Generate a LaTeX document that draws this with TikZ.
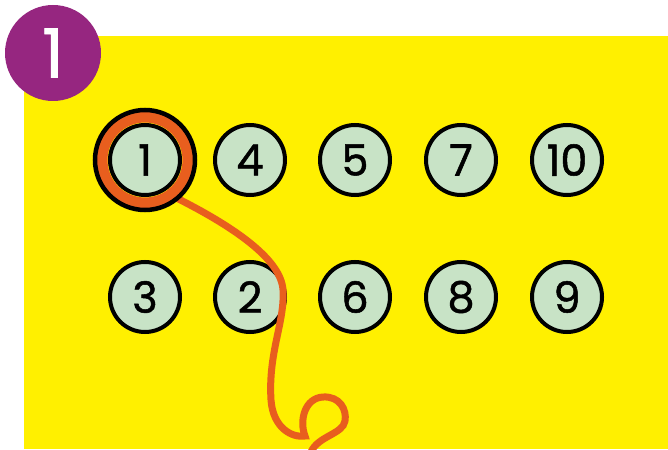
\documentclass[tikz,border=0pt]{standalone}
\usepackage{fontspec}
\setmainfont{Poppins}
\newfontfamily\digitfont{Poppins}[FakeBold=1.2]
\definecolor{pageyellow}{HTML}{FFF000}
\definecolor{badgepurple}{HTML}{962680}
\definecolor{ropeorange}{HTML}{E85E1E}
\definecolor{dotgreen}{HTML}{C8E3C6}
\tikzset{
  dot/.style={circle, draw=black, line width=4pt, fill=dotgreen,
    minimum size=70pt, inner sep=0pt, font=\digitfont\fontsize{43}{43}\selectfont},
  rope/.style={ropeorange, line width=7pt, line cap=round}
}
\begin{document}
\begin{tikzpicture}[x=1pt,y=-1pt]
    \useasboundingbox (0,0) rectangle (668,449);
    % Background card
    \fill[pageyellow] (24,36) rectangle (668,449);

    % Badge in the corner
    \node[circle, fill=badgepurple, minimum size=96pt, text=white,
      font=\digitfont\fontsize{68}{68}\selectfont] (badge) at (53,53) {1};

    % Top row
    \node[dot] (n1) at (145,160) {1};
    \node[dot] (n4) at (250,160) {4};
    \node[dot] (n5) at (355,160) {5};
    \node[dot] (n7) at (461,160) {7};
    \node[dot] (n10) at (567,160) {10};

    % Bottom row
    \node[dot] (n3) at (145,297) {3};
    \node[dot] (n2) at (250,297) {2};
    \node[dot] (n6) at (355,297) {6};
    \node[dot] (n8) at (461,297) {8};
    \node[dot] (n9) at (567,297) {9};

    % Rope coming off the first dot
    \coordinate (ropeend) at (311,452);
    \draw[rope] (n1.center) ++(50:50) .. controls (230,225) and (281,258) .. (283,290)
      .. controls (285,322) and (268,352) .. (271,400)
      .. controls (273,428) and (292,438) .. (305,436)
      .. controls (299,420) and (305,398) .. (323,397)
      .. controls (340,396) and (347,410) .. (345,421)
      .. controls (343,434) and (318,436) .. (ropeend);

    % Ring round the first dot
    \draw[ropeorange, line width=11pt] (n1.center) circle[radius=43];
    \draw[black, line width=4.5pt] (n1.center) circle[radius=50];
\end{tikzpicture}
\end{document}
